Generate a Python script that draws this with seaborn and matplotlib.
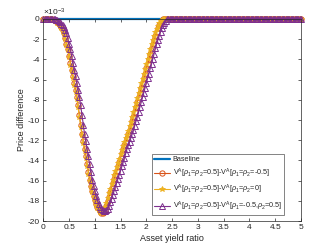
import numpy as np
import pandas as pd
import matplotlib
matplotlib.use("Agg")
import matplotlib.pyplot as plt
import seaborn as sns

# values in units of 1e-3, sampled every 0.025 from 0 to 2.5 (flat zero afterwards)
orange = [0, 0, 0, 0, 0, -0.01, -0.02, -0.03, -0.05, -0.12,
          -0.2, -0.32, -0.45, -0.62, -0.8, -1.05, -1.4, -1.9, -2.45, -2.95,
          -3.65, -4.4, -5.0, -5.65, -6.3, -7.0, -7.7, -8.55, -9.5, -10.45,
          -11.35, -12.1, -12.9, -13.6, -14.35, -15.1, -15.9, -16.5, -17.0, -17.5,
          -17.95, -18.3, -18.6, -18.8, -19.05, -19.2, -19.2, -19.1, -18.9, -18.55,
          -18.05, -17.6, -17.15, -16.7, -16.25, -15.8, -15.4, -15.0, -14.6, -14.2,
          -13.75, -13.3, -12.85, -12.5, -12.15, -11.75, -11.4, -11.0, -10.55, -10.1,
          -9.7, -9.2, -8.7, -8.25, -7.75, -7.3, -6.8, -6.3, -5.85, -5.4,
          -4.9, -4.45, -3.95, -3.45, -2.9, -2.45, -2.05, -1.65, -1.25, -0.9,
          -0.6, -0.35, -0.15, -0.03, 0, 0, 0, 0, 0, 0, 0]
yellow = [0, 0, 0, 0, 0, -0.01, -0.02, -0.04, -0.07, -0.14,
          -0.23, -0.36, -0.5, -0.68, -0.88, -1.15, -1.5, -2.0, -2.6, -3.1,
          -3.8, -4.55, -5.15, -5.8, -6.5, -7.2, -7.9, -8.75, -9.7, -10.65,
          -11.5, -12.3, -13.1, -13.8, -14.55, -15.3, -16.05, -16.65, -17.15, -17.65,
          -18.05, -18.4, -18.7, -18.9, -19.1, -19.25, -19.15, -18.95, -18.65, -18.2,
          -17.7, -17.25, -16.8, -16.35, -15.9, -15.45, -15.05, -14.65, -14.25, -13.85,
          -13.4, -12.95, -12.55, -12.2, -11.8, -11.45, -11.05, -10.6, -10.15, -9.75,
          -9.25, -8.75, -8.3, -7.8, -7.35, -6.85, -6.35, -5.9, -5.45, -4.95,
          -4.5, -4.0, -3.5, -2.95, -2.5, -2.1, -1.7, -1.3, -0.95, -0.65,
          -0.4, -0.18, -0.05, 0, 0, 0, 0, 0, 0, 0, 0]
purple = [0, 0, 0, 0, 0, 0, 0, -0.01, -0.02, -0.03,
          -0.05, -0.12, -0.2, -0.32, -0.45, -0.62, -0.8, -1.05, -1.4, -1.9,
          -2.45, -2.95, -3.65, -4.4, -5.0, -5.65, -6.3, -7.0, -7.7, -8.55,
          -9.5, -10.45, -11.35, -12.1, -12.9, -13.6, -14.35, -15.1, -15.9, -16.5,
          -17.0, -17.5, -17.95, -18.3, -18.6, -18.8, -18.95, -19.05, -19.05, -18.95,
          -18.8, -18.5, -18.1, -17.8, -17.4, -17.0, -16.6, -16.2, -15.8, -15.4,
          -15.0, -14.6, -14.2, -13.75, -13.3, -12.85, -12.5, -12.15, -11.75, -11.4,
          -11.0, -10.55, -10.1, -9.7, -9.2, -8.7, -8.25, -7.75, -7.3, -6.8,
          -6.3, -5.85, -5.4, -4.9, -4.45, -3.95, -3.45, -2.9, -2.45, -2.05,
          -1.65, -1.25, -0.9, -0.6, -0.35, -0.15, -0.03, 0, 0, 0, 0]
tail = [0.0] * 100

x = np.arange(201) * 0.025
baseline = [0.0] * 201

labels = ["Baseline",
          r"V$^{\mathrm{A}}$[$\rho_1$=$\rho_2$=0.5]-V$^{\mathrm{A}}$[$\rho_1$=$\rho_2$=-0.5]",
          r"V$^{\mathrm{A}}$[$\rho_1$=$\rho_2$=0.5]-V$^{\mathrm{A}}$[$\rho_1$=$\rho_2$=0]",
          r"V$^{\mathrm{A}}$[$\rho_1$=$\rho_2$=0.5]-V$^{\mathrm{A}}$[$\rho_1$=-0.5,$\rho_2$=0.5]"]

sns.set_style("ticks")
plt.rcParams['font.family'] = ['Liberation Sans', 'DejaVu Sans']
plt.rcParams['axes.unicode_minus'] = False
plt.rcParams['mathtext.fontset'] = 'custom'
plt.rcParams['mathtext.rm'] = 'Liberation Sans'
plt.rcParams['mathtext.it'] = 'Liberation Sans:italic'

fig = plt.figure(figsize=(3.32, 2.49), dpi=100)
ax = fig.add_axes([0.1304, 0.1124, 0.7762, 0.8113])

sns.lineplot(x=x, y=baseline, ax=ax, color="#0072BD", linewidth=1.6,
             label=labels[0], clip_on=False)
sns.lineplot(x=x, y=orange + tail, ax=ax, color="#D95319", linewidth=0.8,
             marker="o", markersize=3.8, markerfacecolor="none",
             markeredgecolor="#D95319", markeredgewidth=0.7,
             label=labels[1], clip_on=False)
sns.lineplot(x=x, y=yellow + tail, ax=ax, color="#EDB120", linewidth=0.8,
             marker="*", markersize=4.2, markerfacecolor="#EDB120",
             markeredgecolor="#EDB120", markeredgewidth=0.6,
             label=labels[2], clip_on=False)
sns.lineplot(x=x, y=purple + tail, ax=ax, color="#7E2F8E", linewidth=0.8,
             marker="^", markersize=4.0, markerfacecolor="none",
             markeredgecolor="#7E2F8E", markeredgewidth=0.7,
             label=labels[3], clip_on=False)

ax.set_xlim(0, 5)
ax.set_ylim(-20, 0)
ax.set_xticks(np.arange(0, 5.01, 0.5))
ax.set_xticklabels(["0", "0.5", "1", "1.5", "2", "2.5", "3", "3.5", "4", "4.5", "5"])
ax.set_yticks(np.arange(-20, 0.1, 2))
ax.set_yticklabels([str(v) for v in range(-20, 1, 2)])
ax.tick_params(direction="in", length=2.5, width=0.5, labelsize=6,
               colors="#262626", top=True, right=True, pad=2.5)
for s in ax.spines.values():
    s.set_visible(True)
    s.set_linewidth(0.5)
    s.set_color("#262626")

ax.set_xlabel("Asset yield ratio", fontsize=6.5, color="#262626", labelpad=2)
ax.set_ylabel("Price difference", fontsize=6.5, color="#262626", labelpad=1)
ax.text(0.0, 1.005, r"$\times$10$^{-3}$", transform=ax.transAxes,
        fontsize=6, color="#262626", ha="left", va="bottom")

leg = ax.legend(loc="lower right", bbox_to_anchor=(0.934, 0.03), fontsize=5.2,
                frameon=True, fancybox=False, edgecolor="#262626",
                handlelength=2.2, handletextpad=0.3, borderpad=0.3,
                labelspacing=0.45, borderaxespad=0)
leg.get_frame().set_linewidth(0.5)

fig.savefig("out.png", dpi=100)
